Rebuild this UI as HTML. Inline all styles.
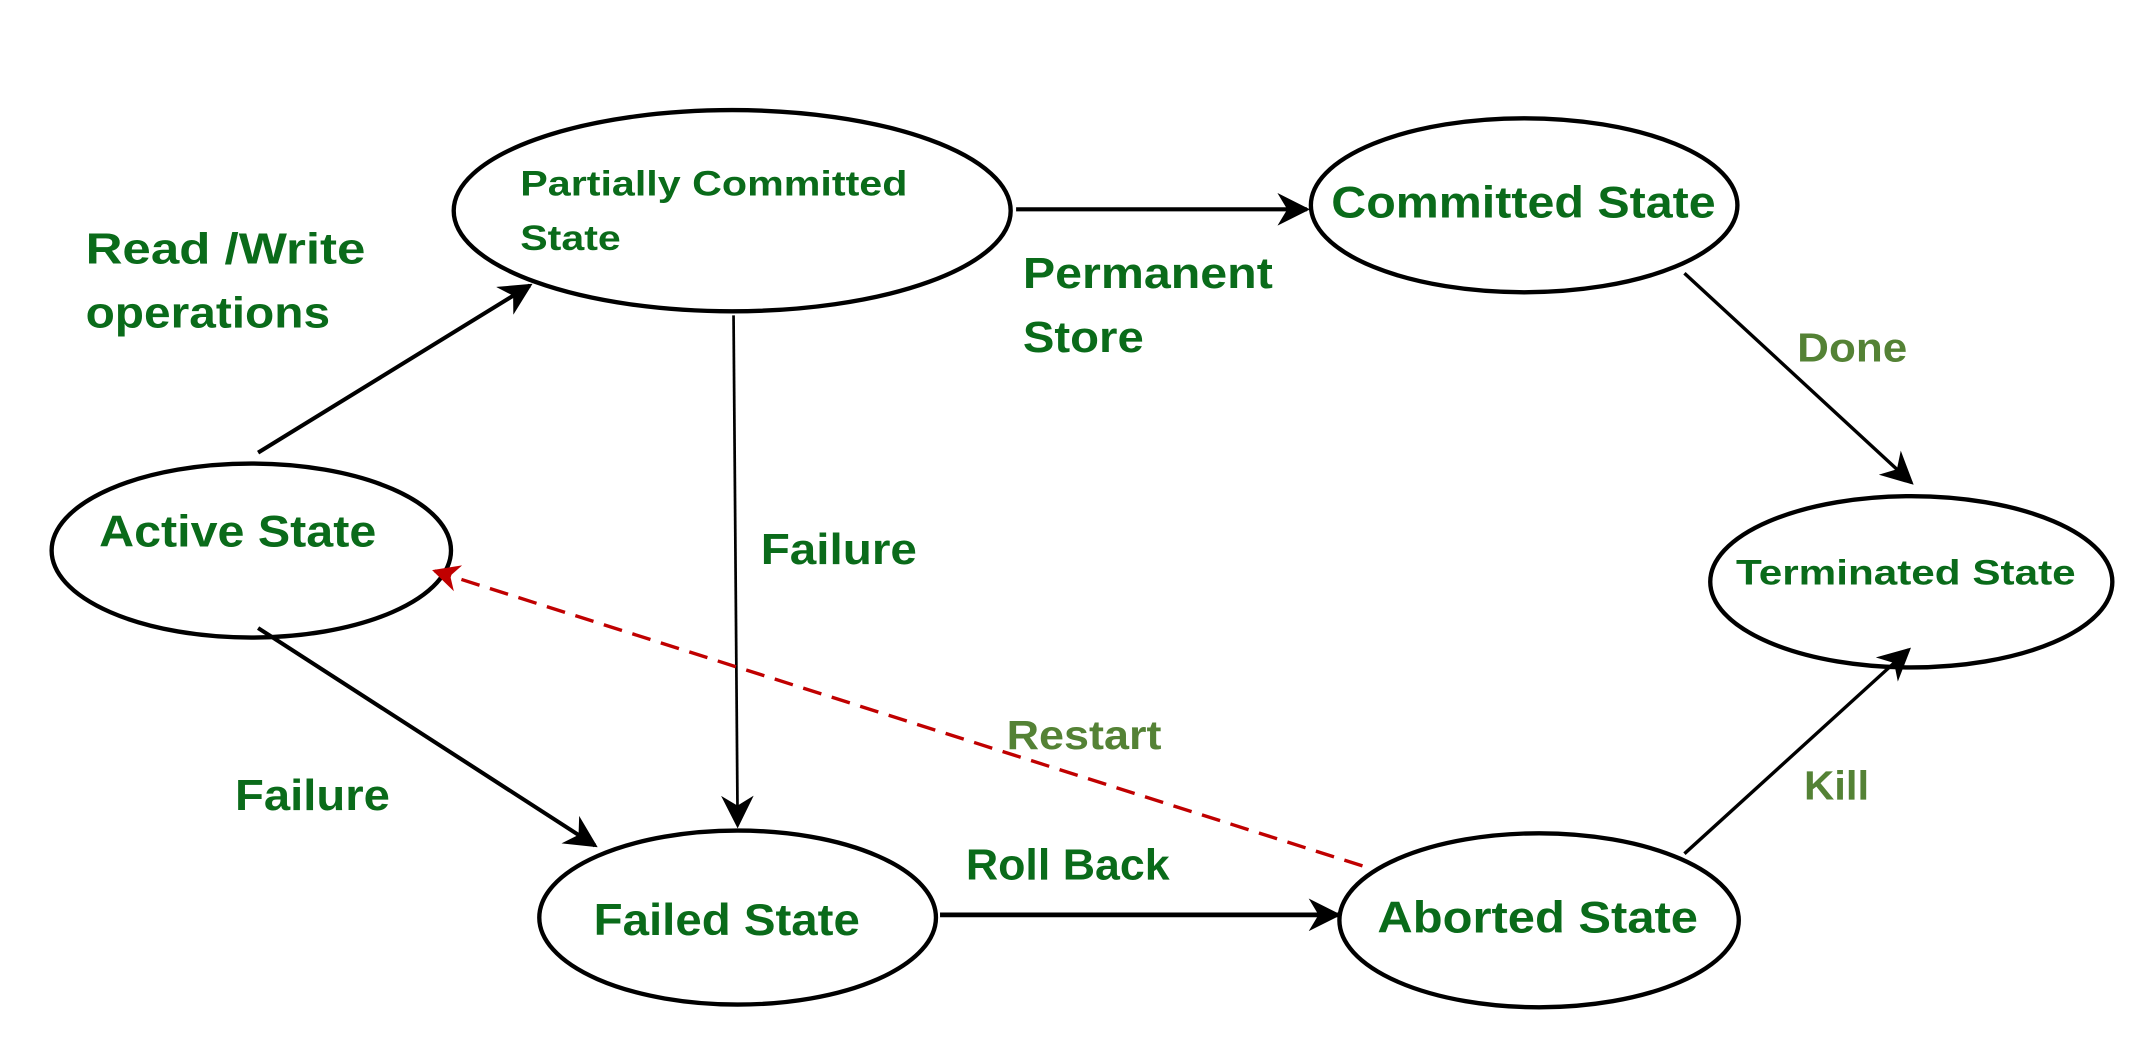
<!DOCTYPE html>
<html><head><style>
html,body{margin:0;padding:0;background:#fff;}
svg{display:block;}
text{font-family:"Liberation Sans Narrow","Liberation Sans",sans-serif;font-weight:bold;}
.d{fill:#0a6b1a;}
.l{fill:#548235;}
</style></head><body>
<svg width="2130" height="1044" viewBox="0 0 1568 768" preserveAspectRatio="none">
<defs>
<marker id="ab" viewBox="0 0 10 10" refX="9" refY="5" markerWidth="24" markerHeight="24" orient="auto" markerUnits="userSpaceOnUse"><path d="M0,0 L10,5 L0,10 L3,5 z" fill="#000"/></marker>
<marker id="ar" viewBox="0 0 10 10" refX="9" refY="5" markerWidth="20" markerHeight="20" orient="auto" markerUnits="userSpaceOnUse"><path d="M0,0 L10,5 L0,10 L3,5 z" fill="#c00000"/></marker>
</defs>
<g fill="none" stroke="#000" stroke-width="3.2">
<ellipse cx="539" cy="155" rx="205" ry="74"/>
<ellipse cx="1122" cy="151" rx="157" ry="64"/>
<ellipse cx="185" cy="405" rx="147" ry="64"/>
<ellipse cx="1407" cy="428" rx="148" ry="63"/>
<ellipse cx="543" cy="675" rx="146" ry="64"/>
<ellipse cx="1133" cy="677" rx="147" ry="64"/>
</g>
<g stroke="#000" stroke-width="3" fill="none">
<line x1="190" y1="333" x2="390" y2="210" marker-end="url(#ab)"/>
<line x1="748" y1="154" x2="962" y2="154" marker-end="url(#ab)"/>
<line x1="540" y1="232" x2="543" y2="607" stroke-width="2" marker-end="url(#ab)"/>
<line x1="1240" y1="201" x2="1407" y2="355" stroke-width="2.5" marker-end="url(#ab)"/>
<line x1="190" y1="462" x2="438" y2="622" marker-end="url(#ab)"/>
<line x1="692" y1="673" x2="985" y2="673" stroke-width="3.5" marker-end="url(#ab)"/>
<line x1="1240" y1="628" x2="1405" y2="478" stroke-width="2.5" marker-end="url(#ab)"/>
</g>
<line x1="1003" y1="637" x2="320" y2="420" stroke="#c00000" stroke-width="2.5" stroke-dasharray="14,8" marker-end="url(#ar)"/>
<g lengthAdjust="spacingAndGlyphs">
<text class="d" x="383" y="144" font-size="26" textLength="285" lengthAdjust="spacingAndGlyphs">Partially Committed</text>
<text class="d" x="383" y="184" font-size="26" textLength="74" lengthAdjust="spacingAndGlyphs">State</text>
<text class="d" x="980" y="160" font-size="33" textLength="283" lengthAdjust="spacingAndGlyphs">Committed State</text>
<text class="d" x="73" y="402" font-size="33" textLength="204" lengthAdjust="spacingAndGlyphs">Active State</text>
<text class="d" x="1278" y="430" font-size="26" textLength="250" lengthAdjust="spacingAndGlyphs">Terminated State</text>
<text class="d" x="437" y="688" font-size="33" textLength="196" lengthAdjust="spacingAndGlyphs">Failed State</text>
<text class="d" x="1014" y="686" font-size="33" textLength="236" lengthAdjust="spacingAndGlyphs">Aborted State</text>
<text class="d" x="63" y="194" font-size="32" textLength="206" lengthAdjust="spacingAndGlyphs">Read /Write</text>
<text class="d" x="63" y="241" font-size="32" textLength="180" lengthAdjust="spacingAndGlyphs">operations</text>
<text class="d" x="753" y="212" font-size="32" textLength="184" lengthAdjust="spacingAndGlyphs">Permanent</text>
<text class="d" x="753" y="259" font-size="32" textLength="89" lengthAdjust="spacingAndGlyphs">Store</text>
<text class="l" x="1323" y="266" font-size="30" textLength="81" lengthAdjust="spacingAndGlyphs">Done</text>
<text class="d" x="560" y="415" font-size="32" textLength="115" lengthAdjust="spacingAndGlyphs">Failure</text>
<text class="l" x="741" y="551" font-size="30" textLength="114" lengthAdjust="spacingAndGlyphs">Restart</text>
<text class="d" x="173" y="596" font-size="32" textLength="114" lengthAdjust="spacingAndGlyphs">Failure</text>
<text class="d" x="711" y="647" font-size="32" textLength="150" lengthAdjust="spacingAndGlyphs">Roll Back</text>
<text class="l" x="1328" y="588" font-size="30" textLength="48" lengthAdjust="spacingAndGlyphs">Kill</text>
</g>
</svg>
</body></html>
